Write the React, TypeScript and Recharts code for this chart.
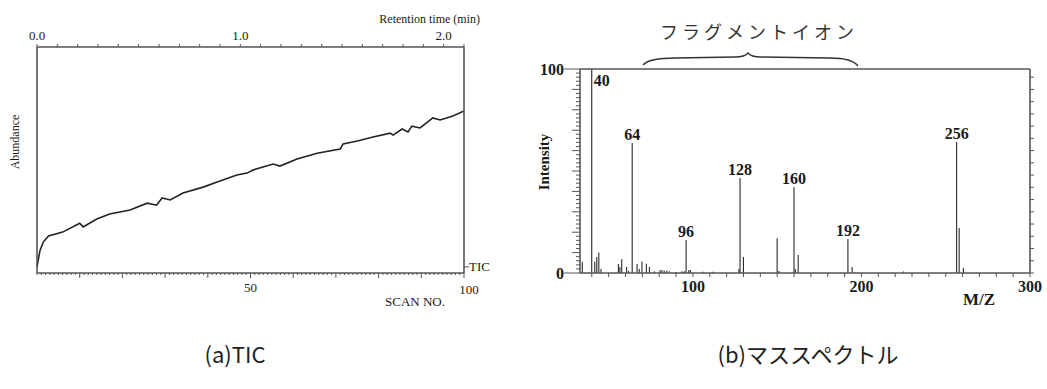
import React from 'react';
import { LineChart, Line, XAxis, YAxis, ComposedChart, Bar, LabelList } from 'recharts';

// ─── Fonts / colours ──────────────────────────────────────
const SERIF = '"Liberation Serif", "Times New Roman", serif';
const SANS = '"Noto Sans CJK JP", "Noto Sans", sans-serif';
const AXIS = '#555';
const INK = '#1a1a1a';

// ─── (a) TIC data ─────────────────────────────────────────
const TIC_SCANS = [
  0, 0.7, 1.5, 2.7, 6, 10, 10.8, 14, 17, 21.8, 25.8, 28, 29.3, 31.2, 34.2, 38.9, 42.2,
  46.8, 49.2, 50.6, 55.3, 56.9, 60.9, 65.6, 71, 71.7, 75, 78.7, 82.7, 83.4, 85.5, 86.9,
  87.8, 89.7, 92.7, 94.4, 97.4, 100,
];
const TIC_VALUES = [
  2.7, 10, 13.8, 16.4, 18.1, 22, 20.4, 23.9, 26.1, 27.9, 30.9, 30, 33.2, 32.3, 35.4, 38, 40.3,
  43.4, 44.2, 45.6, 48.2, 47.3, 50.4, 53, 54.9, 57.1, 58.4, 60.2, 61.9, 61, 63.7, 62.4,
  65, 64.2, 68.6, 67.7, 69.5, 71.7,
];
const TIME_TICKS = [
  0, 0.1, 0.2, 0.3, 0.4, 0.5, 0.6, 0.7, 0.8, 0.9, 1.0,
  1.1, 1.2, 1.3, 1.4, 1.5, 1.6, 1.7, 1.8, 1.9, 2.0, 2.1,
];
const TIME_LABELS = [0, 1, 2];
const TIME_DOMAIN: [number, number] = [0, 2.1]; // minutes spanned by scans 0..100
const SCAN_LABELS = [50, 100];
const TIC_BASELINE = 2.7;

// ─── (b) mass spectrum data ───────────────────────────────
const MZ = [
  34.4, 40, 41.8, 43, 44.2, 45.5, 55.8, 56.7, 57.8, 60.7, 61.9, 64, 66.9, 68.2, 69.8, 72.4,
  74.2, 77.1, 80.5, 81.7, 83, 84.5, 86, 90, 93.5, 95, 96, 97.6, 98.5, 106, 112, 127.3, 128,
  130, 150, 151, 160, 160.8, 162.5, 192, 194.5, 225, 256.5, 258, 260.5,
];
const INTENSITY = [
  5.5, 100, 5.5, 7.8, 10, 2, 4.4, 3, 6.7, 3, 1, 63.7, 4.4, 2, 5.5, 4.5,
  3, 0.8, 1.5, 1.5, 1.2, 1.2, 0.8, 0.5, 0.8, 0.8, 16.2, 1.5, 1.5, 0.6, 0.6, 2, 46.6,
  7.8, 17, 1, 42, 2, 8.8, 16.7, 3, 0.7, 64.2, 22, 2.5,
];
const PEAK_LABELS: Record<number, string> = {
  40: '40', 64: '64', 96: '96', 128: '128', 160: '160', 192: '192', 256.5: '256',
};
const MZ_LABELS = [100, 200, 300];
const MZ_DOMAIN: [number, number] = [33, 300];

function range(start: number, end: number, step: number): number[] {
  const out: number[] = [];
  for (let v = start; v <= end + 1e-9; v += step) out.push(Math.round(v * 100) / 100);
  return out;
}

const SCAN_TICKS = range(0, 100, 1);
const MZ_TICKS = range(40, 300, 10);
const INTENSITY_TICKS = range(0, 100, 2);
const RIGHT_TICKS = range(0, 96, 6);

const ticData = TIC_SCANS.map((scan, i) => ({ scan, abundance: TIC_VALUES[i] }));
const specData = MZ.map((mz, i) => ({
  mz,
  intensity: INTENSITY[i],
  label: PEAK_LABELS[mz] ?? '',
}));

// ─── Custom ticks ─────────────────────────────────────────
function ScanTick({ x, y, payload }: any) {
  const v = payload.value as number;
  const major = v % 10 === 0 && v !== 0;
  return (
    <g>
      <line x1={x} x2={x} y1={y} y2={y + (major ? 5 : 2)} stroke={AXIS} strokeWidth={1} />
      {SCAN_LABELS.includes(v) && (
        <text x={v === 100 ? x + 5 : x} y={y + (v === 100 ? 21 : 19)} textAnchor="middle"
          fontSize={13} fontFamily={SERIF} fill={INK}>{v}</text>
      )}
    </g>
  );
}

function TicTick({ x, y }: any) {
  return (
    <g>
      <line x1={x} x2={x + 5} y1={y} y2={y} stroke={AXIS} strokeWidth={1} />
      <text x={x + 5} y={y + 4.5} fontSize={13} fontFamily={SERIF} fill={INK}>TIC</text>
    </g>
  );
}

function MzTick({ x, y, payload }: any) {
  const v = payload.value as number;
  return (
    <g>
      <line x1={x} x2={x} y1={y} y2={y + 4} stroke={AXIS} strokeWidth={1} />
      {MZ_LABELS.includes(v) && (
        <text x={x} y={y + 19} textAnchor="middle" fontSize={16} fontWeight="bold"
          fontFamily={SERIF} fill={INK}>{v}</text>
      )}
    </g>
  );
}

function IntensityTick({ x, y, payload }: any) {
  const v = payload.value as number;
  const ends = v === 0 || v === 100;
  const len = ends ? 16 : v % 10 === 0 ? 8 : 4;
  return (
    <g>
      <line x1={x - len} x2={x} y1={y} y2={y} stroke={AXIS} strokeWidth={1} />
      {ends && (
        <text x={x - 16} y={y + 5.5} textAnchor="end" fontSize={16} fontWeight="bold"
          fontFamily={SERIF} fill={INK}>{v}</text>
      )}
    </g>
  );
}

function PeakLabel({ x, y, width, value }: any) {
  if (!value) return null;
  const common = { fontSize: 16, fontWeight: 'bold' as const, fontFamily: SERIF, fill: INK };
  if (value === '40') {
    return <text x={x + width + 1.5} y={y + 17} {...common}>{value}</text>;
  }
  return <text x={x + width / 2} y={y - 3} textAnchor="middle" {...common}>{value}</text>;
}

// ─── Charts ───────────────────────────────────────────────
// plot box of (a): x 37..464, y 47..273
function TicChart() {
  return (
    <LineChart width={500} height={320} data={ticData}
      margin={{ top: 27, right: 26, bottom: 17, left: 27 }}>
      <XAxis xAxisId="bottom" dataKey="scan" type="number" domain={[0, 100]} ticks={SCAN_TICKS}
        interval={0} height={30} tickSize={0} tickMargin={0} tickLine={false}
        axisLine={{ stroke: AXIS, strokeWidth: 1.6 }} tick={<ScanTick />} />
      <XAxis xAxisId="top" orientation="top" dataKey="scan" type="number" domain={TIME_DOMAIN}
        allowDataOverflow ticks={TIME_TICKS} interval={0} height={20} tickSize={3} tickMargin={4}
        tickLine={{ stroke: AXIS }} axisLine={{ stroke: AXIS, strokeWidth: 1.6 }}
        tick={{ fontSize: 13, fontFamily: SERIF, fill: INK }}
        tickFormatter={(v: number) => (TIME_LABELS.includes(v) ? v.toFixed(1) : '')} />
      <YAxis yAxisId="left" domain={[0, 100]} width={10} tick={false} tickLine={false}
        axisLine={{ stroke: AXIS, strokeWidth: 1.6 }} />
      <YAxis yAxisId="right" orientation="right" domain={[0, 100]} width={10} ticks={[TIC_BASELINE]}
        interval={0} tickSize={0} tickMargin={0} tickLine={false}
        axisLine={{ stroke: AXIS, strokeWidth: 1.6 }} tick={<TicTick />} />
      <Line xAxisId="bottom" yAxisId="left" type="linear" dataKey="abundance" stroke="#222"
        strokeWidth={1.6} dot={false} isAnimationActive={false} />
      {/* invisible series so the top/right axes get their scales */}
      <Line xAxisId="top" yAxisId="right" dataKey="abundance" stroke="none" dot={false}
        activeDot={false} isAnimationActive={false} />
    </LineChart>
  );
}

// plot box of (b): x 580..1030, y 69..273 (page coordinates)
function SpectrumChart() {
  return (
    <ComposedChart width={527} height={320} data={specData}
      margin={{ top: 49, right: 7, bottom: 17, left: 20 }}>
      <XAxis dataKey="mz" type="number" domain={MZ_DOMAIN} allowDataOverflow ticks={MZ_TICKS}
        interval={0} height={30} tickSize={0} tickMargin={0} tickLine={false}
        axisLine={{ stroke: AXIS, strokeWidth: 1.6 }} tick={<MzTick />} />
      <XAxis xAxisId="top" orientation="top" dataKey="mz" type="number" domain={MZ_DOMAIN}
        allowDataOverflow height={20} tick={false} tickLine={false}
        axisLine={{ stroke: AXIS, strokeWidth: 1.6 }} />
      <YAxis yAxisId="left" domain={[0, 100]} allowDataOverflow width={40} ticks={INTENSITY_TICKS}
        interval={0} tickSize={0} tickMargin={0} tickLine={false}
        axisLine={{ stroke: AXIS, strokeWidth: 1.6 }} tick={<IntensityTick />} />
      <YAxis yAxisId="right" orientation="right" domain={[0, 100]} width={10} ticks={RIGHT_TICKS}
        interval={0} tickSize={4} tickMargin={0} tickLine={{ stroke: AXIS }}
        axisLine={{ stroke: AXIS, strokeWidth: 1.6 }} tickFormatter={() => ''} />
      <Bar yAxisId="left" dataKey="intensity" barSize={1.6} fill="#222" isAnimationActive={false}>
        <LabelList dataKey="label" content={<PeakLabel />} />
      </Bar>
      <Line xAxisId="top" yAxisId="right" dataKey="intensity" stroke="none" dot={false}
        activeDot={false} isAnimationActive={false} />
    </ComposedChart>
  );
}

export default function App() {
  return (
    <div style={{ position: 'absolute', left: 0, top: 0, width: 1047, height: 389, background: '#fff' }}>
      <div style={{ position: 'absolute', left: 0, top: 0 }}>
        <TicChart />
      </div>
      <div style={{ position: 'absolute', left: 520, top: 0 }}>
        <SpectrumChart />
      </div>
      <svg width={1047} height={389} style={{ position: 'absolute', left: 0, top: 0, pointerEvents: 'none' }}>
        {/* (a) labels */}
        <text x={480} y={23} textAnchor="end" fontSize={12} fontFamily={SERIF} fill={INK}>Retention time (min)</text>
        <text x={415} y={306} textAnchor="middle" fontSize={13} fontFamily={SERIF} fill={INK}>SCAN NO.</text>
        <text x={15} y={142} textAnchor="middle" dominantBaseline="central" fontSize={12}
          fontFamily={SERIF} fill={INK} transform="rotate(-90 15 142)">Abundance</text>

        {/* (b) labels */}
        <text x={544} y={162} textAnchor="middle" dominantBaseline="central" fontSize={15} fontWeight="bold"
          fontFamily={SERIF} fill={INK} transform="rotate(-90 544 162)">Intensity</text>
        <text x={979} y={305} textAnchor="middle" fontSize={17} fontWeight="bold" fontFamily={SERIF} fill={INK}>M/Z</text>
        <text x={759} y={39} textAnchor="middle" fontSize={18} letterSpacing={4} fontFamily={SANS} fill="#333">フラグメントイオン</text>
        <path d="M643,65 Q649,58 675,58 L735,57 Q745,57 748,53 Q751,57 761,57 L830,58 Q852,58 858,66"
          fill="none" stroke="#333" strokeWidth={1.3} />

        {/* captions */}
        <text x={235} y={363} textAnchor="middle" fontSize={22} fontFamily={SANS} fill="#222">(a)TIC</text>
        <text x={808} y={363} textAnchor="middle" fontSize={22} fontFamily={SANS} fill="#222">(b)マススペクトル</text>
      </svg>
    </div>
  );
}
